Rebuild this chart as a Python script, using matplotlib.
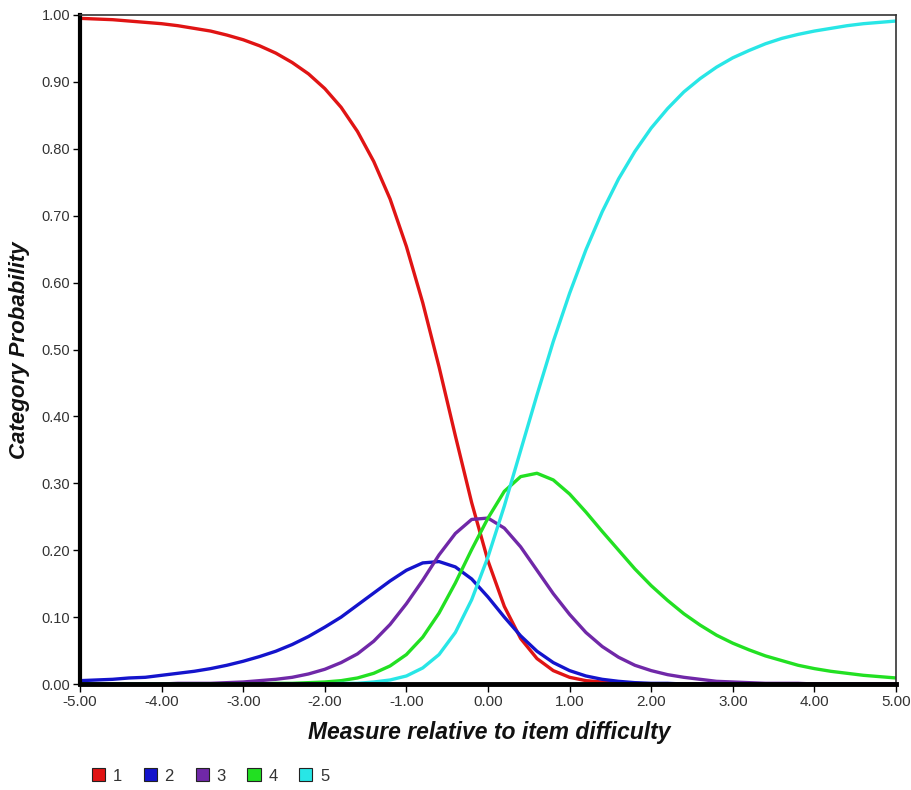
import matplotlib
matplotlib.use("Agg")
import matplotlib.pyplot as plt
from matplotlib.patches import Patch

plt.rcParams['font.family'] = ['Liberation Sans', 'DejaVu Sans']

# measure (logits), step 0.2 from -5 to 5
measure = [round(-5 + 0.2 * i, 1) for i in range(51)]

# category probabilities (x1000)
cat1 = [995, 994, 993, 991, 989, 987, 984, 980, 976, 970, 963, 954, 943, 929, 912, 890, 862, 826, 781, 725,
        654, 570, 474, 371, 271, 184, 116, 68, 38, 20, 10, 5, 3, 1, 1, 0, 0, 0, 0, 0,
        0, 0, 0, 0, 0, 0, 0, 0, 0, 0, 0]
cat2 = [5, 6, 7, 9, 10, 13, 16, 19, 23, 28, 34, 41, 49, 59, 71, 85, 100, 118, 136, 154,
        170, 181, 183, 175, 157, 130, 100, 72, 49, 32, 20, 12, 7, 4, 2, 1, 1, 0, 0, 0,
        0, 0, 0, 0, 0, 0, 0, 0, 0, 0, 0]
cat3 = [0, 0, 0, 0, 0, 0, 1, 1, 1, 2, 3, 5, 7, 10, 15, 22, 32, 45, 64, 89,
        120, 155, 193, 225, 246, 248, 233, 205, 170, 135, 104, 77, 56, 40, 28, 20, 14, 10, 7, 4,
        3, 2, 1, 1, 1, 0, 0, 0, 0, 0, 0]
cat4 = [0, 0, 0, 0, 0, 0, 0, 0, 0, 0, 0, 0, 1, 1, 2, 3, 5, 9, 16, 27,
        44, 70, 106, 151, 201, 248, 288, 310, 315, 305, 284, 257, 228, 200, 172, 147, 125, 105, 88, 73,
        61, 51, 42, 35, 28, 23, 19, 16, 13, 11, 9]
cat5 = [0, 0, 0, 0, 0, 0, 0, 0, 0, 0, 0, 0, 0, 0, 0, 0, 1, 1, 3, 6,
        12, 24, 44, 77, 126, 190, 266, 349, 432, 512, 584, 649, 706, 755, 796, 831, 860, 885, 905, 922,
        936, 947, 957, 965, 971, 976, 980, 984, 987, 989, 991]

labels = ['1', '2', '3', '4', '5']
colors = ['#e01414', '#1414cc', '#7028a8', '#22e022', '#28e6e6']
series = [cat1, cat2, cat3, cat4, cat5]

fig = plt.figure(figsize=(9.12, 7.9), dpi=100)
ax = fig.add_axes([80 / 912, 1 - 684 / 790, 816 / 912, 669 / 790])

for vals, col in zip(series, colors):
    ax.plot(measure, [v / 1000 for v in vals], color=col, lw=2.4,
            solid_joinstyle='round', solid_capstyle='butt')

ax.set_xlim(-5, 5)
ax.set_ylim(0, 1)
ax.set_xticks([-5, -4, -3, -2, -1, 0, 1, 2, 3, 4, 5])
ax.set_yticks([i / 10 for i in range(11)])
ax.xaxis.set_major_formatter(matplotlib.ticker.FormatStrFormatter('%.2f'))
ax.yaxis.set_major_formatter(matplotlib.ticker.FormatStrFormatter('%.2f'))
ax.tick_params(axis='x', direction='out', length=6, width=1, pad=2, labelsize=11, labelcolor='#333333')
ax.tick_params(axis='y', direction='out', length=5, width=1, pad=2, labelsize=10.5, labelcolor='#333333')

ax.spines['left'].set_linewidth(3)
ax.spines['bottom'].set_linewidth(3.5)
ax.spines['top'].set_linewidth(1.2)
ax.spines['right'].set_linewidth(1.2)
ax.spines['top'].set_color('#333333')
ax.spines['right'].set_color('#333333')

fig.text(489 / 912, 1 - 732 / 790, 'Measure relative to item difficulty', ha='center', va='center',
         fontsize=16.5, fontweight='bold', fontstyle='italic', color='#111111')
fig.text(20 / 912, 1 - 350 / 790, 'Category Probability', ha='center', va='center', rotation=90,
         fontsize=16, fontweight='bold', fontstyle='italic', color='#111111')

handles = [Patch(facecolor=c, edgecolor='#222222', lw=0.8) for c in colors]
fig.legend(handles, labels, loc='center left', bbox_to_anchor=(92 / 912, 1 - 776 / 790), ncol=5,
           frameon=False, fontsize=12, handlelength=0.8, handleheight=0.8, handletextpad=0.45,
           columnspacing=1.3, labelcolor='#333333', borderaxespad=0, borderpad=0)

fig.savefig('out.png', dpi=100)
